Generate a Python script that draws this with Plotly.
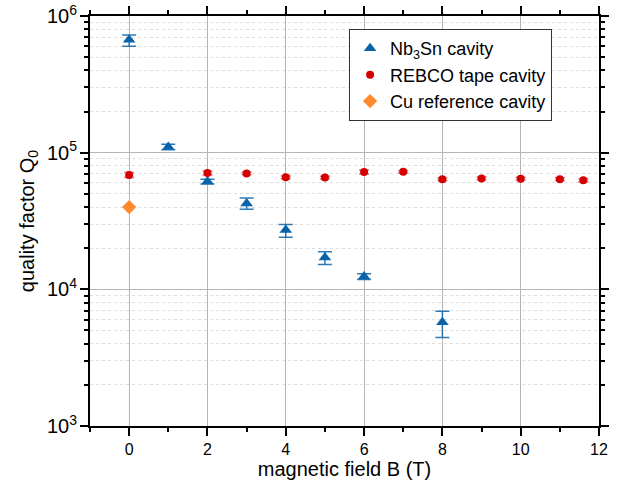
import plotly.graph_objects as go

# Nb3Sn cavity
nb_x = [0, 1, 2, 3, 4, 5, 6, 8]
nb_q = [6.7e5, 1.10e5, 6.15e4, 4.25e4, 2.72e4, 1.71e4, 1.24e4, 5.75e3]
nb_err_plus = [0.57e5, 0.05e5, 0.25e4, 0.40e4, 0.26e4, 0.17e4, 0.06e4, 1.15e3]
nb_err_minus = [0.70e5, 0.05e5, 0.25e4, 0.40e4, 0.32e4, 0.19e4, 0.06e4, 1.30e3]

# REBCO tape cavity
re_x = [0, 2, 3, 4, 5, 6, 7, 8, 9, 10, 11, 11.6]
re_q = [6.87e4, 7.1e4, 7.05e4, 6.6e4, 6.57e4, 7.23e4, 7.25e4, 6.38e4, 6.48e4, 6.45e4, 6.4e4, 6.28e4]
re_err = [3.0e3, 2.5e3, 1.5e3, 1.5e3, 1.5e3, 2.5e3, 1.5e3, 1.5e3, 1.5e3, 1.5e3, 1.5e3, 1.5e3]

# Cu reference cavity
cu_x = [0]
cu_q = [4.0e4]

BLUE = "#0a63a8"
RED = "#d40000"
ORANGE = "#ff8a2e"
FONT = "Arial, Liberation Sans, sans-serif"

fig = go.Figure()
fig.add_trace(go.Scatter(
    x=nb_x, y=nb_q, mode="markers", name="Nb<sub>3</sub>Sn cavity",
    marker=dict(symbol="triangle-up", size=11, color=BLUE),
    error_y=dict(type="data", array=nb_err_plus, arrayminus=nb_err_minus,
                 color="rgba(10,99,168,0.85)", thickness=1.5, width=7),
))
fig.add_trace(go.Scatter(
    x=re_x, y=re_q, mode="markers", name="REBCO tape cavity",
    marker=dict(symbol="circle", size=8, color=RED),
    error_y=dict(type="data", array=re_err, color="rgba(220,60,60,0.7)",
                 thickness=1.5, width=5),
))
fig.add_trace(go.Scatter(
    x=cu_x, y=cu_q, mode="markers", name="Cu reference cavity",
    marker=dict(symbol="diamond", size=11, color=ORANGE),
))

fig.update_layout(
    width=623, height=488,
    margin=dict(l=90, r=24, t=16, b=62),
    paper_bgcolor="white", plot_bgcolor="white",
    font=dict(family=FONT, size=16, color="black"),
    showlegend=True,
    legend=dict(x=0.509, y=0.968, xanchor="left", yanchor="top",
                bgcolor="white", bordercolor="#333333", borderwidth=1,
                font=dict(size=18, family=FONT), tracegroupgap=0),
    xaxis=dict(
        range=[-1, 12], dtick=2, tick0=0, automargin=False,
        showline=True, linecolor="black", linewidth=1.5, mirror="ticks",
        ticks="outside", ticklen=8, tickwidth=1.5, tickcolor="black",
        showgrid=True, gridcolor="#b4b4b4", gridwidth=1, zeroline=False,
        minor=dict(dtick=1, ticks="outside", ticklen=4, tickwidth=1.5,
                   tickcolor="black", showgrid=False),
        title=dict(text="magnetic field B (T)", font=dict(size=20), standoff=5),
        tickfont=dict(size=16),
    ),
    yaxis=dict(
        type="log", range=[3, 6], dtick=1, exponentformat="power", automargin=False,
        ticklabeloverflow="allow",
        showline=True, linecolor="black", linewidth=1.5, mirror="ticks",
        ticks="outside", ticklen=8, tickwidth=1.5, tickcolor="black",
        showgrid=True, gridcolor="#b4b4b4", gridwidth=1, zeroline=False,
        minor=dict(dtick="D1", ticks="outside", ticklen=4, tickwidth=1.5,
                   tickcolor="black", showgrid=True, gridcolor="#dddddd",
                   griddash="dot", gridwidth=1),
        title=dict(text="quality factor Q<sub>0</sub>", font=dict(size=20), standoff=7),
        tickfont=dict(size=16),
    ),
)

fig.write_html("out.html", config={"displayModeBar": False},
               post_script="document.body.style.margin='0';")
